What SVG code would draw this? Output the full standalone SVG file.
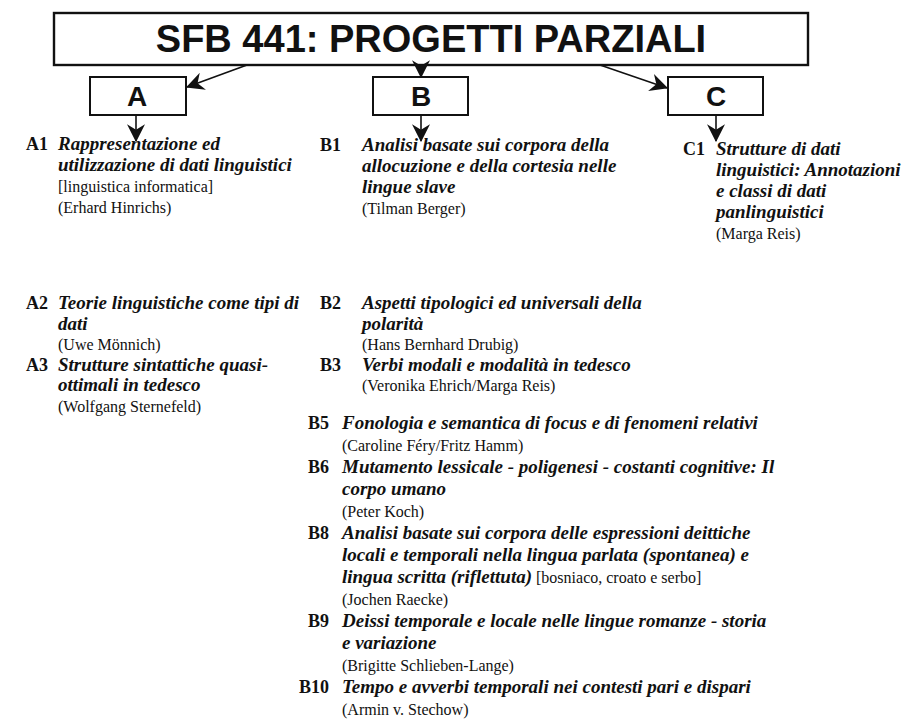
<svg xmlns="http://www.w3.org/2000/svg" width="908" height="725" viewBox="0 0 908 725">
<defs>
<style>
.box{fill:#fff;stroke:#111;stroke-width:2.4}
.sbox{fill:#fff;stroke:#111;stroke-width:2}
.title{font-family:"Liberation Sans",Arial,sans-serif;font-weight:bold;font-size:38px;fill:#111;text-anchor:middle}
.let{font-family:"Liberation Sans",Arial,sans-serif;font-weight:bold;font-size:28px;fill:#111;text-anchor:middle}
.lab{font-family:"Liberation Serif","Times New Roman",serif;font-weight:bold;font-size:18px;fill:#111}
.it{font-family:"Liberation Serif","Times New Roman",serif;font-weight:bold;font-style:italic;font-size:19px;fill:#111}
.rm{font-family:"Liberation Serif","Times New Roman",serif;font-size:16px;fill:#111}
.conn{stroke:#111;stroke-width:1.6;fill:none}
</style>
<marker id="ah" markerUnits="userSpaceOnUse" markerWidth="18" markerHeight="18" viewBox="0 0 16 16" refX="15" refY="8" orient="auto">
<path d="M0,0 L16,8 L0,16 L5,8 Z" fill="#111"/>
</marker>
</defs>
<rect width="908" height="725" fill="#fff"/>

<g id="title">
<rect class="box" x="54" y="13" width="754" height="52"/>
<text class="title" x="431" y="52">SFB 441: PROGETTI PARZIALI</text>
</g>
<g id="nodeA">
<rect class="sbox" x="90" y="77" width="96" height="38"/>
<text class="let" x="137" y="106">A</text>
</g>
<g id="nodeB">
<rect class="sbox" x="373" y="77" width="95" height="38"/>
<text class="let" x="421" y="106">B</text>
</g>
<g id="nodeC">
<rect class="sbox" x="668" y="77" width="95" height="38"/>
<text class="let" x="716" y="106">C</text>
</g>

<g id="connectors">
<line class="conn" x1="247" y1="65" x2="187" y2="87" marker-end="url(#ah)"/>
<line class="conn" x1="421" y1="65" x2="421" y2="77" marker-end="url(#ah)"/>
<line class="conn" x1="600" y1="65" x2="667" y2="88" marker-end="url(#ah)"/>
<line class="conn" x1="136" y1="115" x2="136" y2="141" marker-end="url(#ah)"/>
<line class="conn" x1="421" y1="115" x2="421" y2="141" marker-end="url(#ah)"/>
<line class="conn" x1="716" y1="115" x2="716" y2="141" marker-end="url(#ah)"/>
</g>

<g id="A1">
<text class="lab" x="26" y="150">A1</text>
<text class="it" x="58" y="150">Rappresentazione ed</text>
<text class="it" x="58" y="171">utilizzazione di dati linguistici</text>
<text class="rm" x="58" y="192">[linguistica informatica]</text>
<text class="rm" x="58" y="213">(Erhard Hinrichs)</text>
</g>
<g id="B1">
<text class="lab" x="320" y="151">B1</text>
<text class="it" x="362" y="151">Analisi basate sui corpora della</text>
<text class="it" x="362" y="172">allocuzione e della cortesia nelle</text>
<text class="it" x="362" y="193">lingue slave</text>
<text class="rm" x="362" y="214">(Tilman Berger)</text>
</g>
<g id="C1">
<text class="lab" x="683" y="155">C1</text>
<text class="it" x="716" y="155">Strutture di dati</text>
<text class="it" x="716" y="176">linguistici: Annotazioni</text>
<text class="it" x="716" y="197">e classi di dati</text>
<text class="it" x="716" y="218">panlinguistici</text>
<text class="rm" x="716" y="239">(Marga Reis)</text>
</g>
<g id="A2">
<text class="lab" x="26" y="309">A2</text>
<text class="it" x="58" y="309">Teorie linguistiche come tipi di</text>
<text class="it" x="58" y="329.5">dati</text>
<text class="rm" x="58" y="350">(Uwe Mönnich)</text>
</g>
<g id="A3">
<text class="lab" x="26" y="370.5">A3</text>
<text class="it" x="58" y="370.5">Strutture sintattiche quasi-</text>
<text class="it" x="58" y="391">ottimali in tedesco</text>
<text class="rm" x="58" y="411.5">(Wolfgang Sternefeld)</text>
</g>
<g id="B2">
<text class="lab" x="320" y="309">B2</text>
<text class="it" x="362" y="309">Aspetti tipologici ed universali della</text>
<text class="it" x="362" y="329.5">polarità</text>
<text class="rm" x="362" y="350">(Hans Bernhard Drubig)</text>
</g>
<g id="B3">
<text class="lab" x="320" y="370.5">B3</text>
<text class="it" x="362" y="370.5">Verbi modali e modalità in tedesco</text>
<text class="rm" x="362" y="391">(Veronika Ehrich/Marga Reis)</text>
</g>
<g id="B5">
<text class="lab" x="308" y="429">B5</text>
<text class="it" x="342" y="429">Fonologia e semantica di focus e di fenomeni relativi</text>
<text class="rm" x="342" y="451">(Caroline Féry/Fritz Hamm)</text>
</g>
<g id="B6">
<text class="lab" x="308" y="473">B6</text>
<text class="it" x="342" y="473">Mutamento lessicale - poligenesi - costanti cognitive: Il</text>
<text class="it" x="342" y="495">corpo umano</text>
<text class="rm" x="342" y="517">(Peter Koch)</text>
</g>
<g id="B8">
<text class="lab" x="308" y="539">B8</text>
<text class="it" x="342" y="539">Analisi basate sui corpora delle espressioni deittiche</text>
<text class="it" x="342" y="561">locali e temporali nella lingua parlata (spontanea) e</text>
<text x="342" y="583"><tspan class="it">lingua scritta (riflettuta)</tspan><tspan class="rm"> [bosniaco, croato e serbo]</tspan></text>
<text class="rm" x="342" y="605">(Jochen Raecke)</text>
</g>
<g id="B9">
<text class="lab" x="308" y="627">B9</text>
<text class="it" x="342" y="627">Deissi temporale e locale nelle lingue romanze - storia</text>
<text class="it" x="342" y="649">e variazione</text>
<text class="rm" x="342" y="671">(Brigitte Schlieben-Lange)</text>
</g>
<g id="B10">
<text class="lab" x="299" y="693">B10</text>
<text class="it" x="342" y="693">Tempo e avverbi temporali nei contesti pari e dispari</text>
<text class="rm" x="342" y="715">(Armin v. Stechow)</text>
</g>
</svg>
